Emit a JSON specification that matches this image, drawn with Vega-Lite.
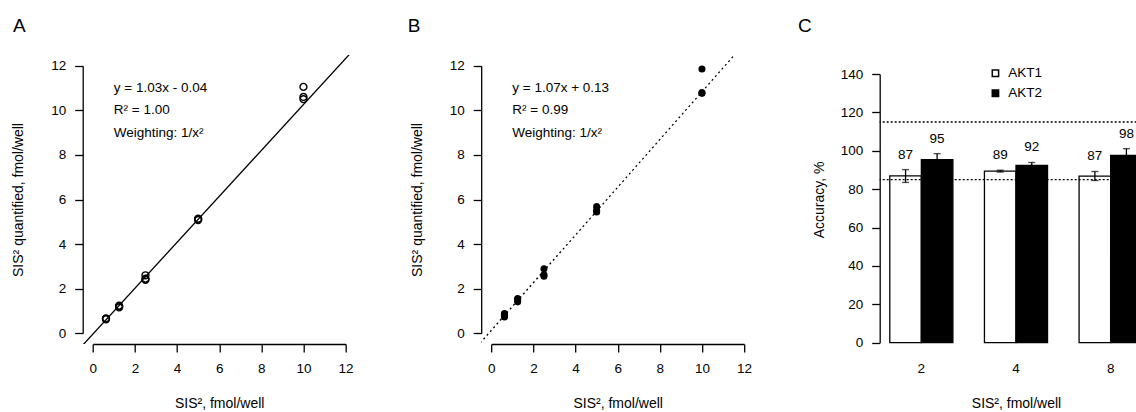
{
  "$schema": "https://vega.github.io/schema/vega-lite/v6.json",
  "background": "white",
  "padding": {"left": 10.7, "top": 17, "right": 0, "bottom": 0},
  "spacing": 125.5,
  "bounds": "flush",
  "resolve": {"legend": {"fill": "independent"}, "scale": {"fill": "independent"}},
  "config": {
    "font": "Liberation Sans",
    "view": {"stroke": null},
    "axis": {
      "labelFont": "Liberation Sans", "labelFontSize": 13.5, "labelColor": "black",
      "titleFont": "Liberation Sans", "titleFontSize": 14, "titleFontWeight": "normal", "titleColor": "black",
      "tickColor": "black", "domainColor": "black", "tickWidth": 1.3, "domainWidth": 1.3,
      "grid": false, "labelFlush": false, "labelOverlap": false, "labelBound": false
    },
    "title": {"font": "Liberation Sans", "fontSize": 19, "fontWeight": "normal", "color": "black", "anchor": "start", "frame": "group", "baseline": "alphabetic", "offset": 19},
    "text": {"font": "Liberation Sans", "fontSize": 13.5, "color": "black"}
  },
  "hconcat": [
    {
      "width": 273, "height": 289,
      "title": {"text": "A", "dx": -69.6},
      "encoding": {
        "x": {"field": "x", "type": "quantitative",
          "scale": {"domain": [-0.48, 12.48], "nice": false, "zero": false},
          "axis": {"values": [0, 2, 4, 6, 8, 10, 12], "title": "SIS², fmol/well", "domainDash": [252.8, 1000], "domainDashOffset": -10.11, "tickSize": 8, "labelPadding": 10, "titlePadding": 21}},
        "y": {"field": "y", "type": "quantitative",
          "scale": {"domain": [-0.48, 12.48], "nice": false, "zero": false},
          "axis": {"values": [0, 2, 4, 6, 8, 10, 12], "title": "SIS² quantified, fmol/well", "domainDash": [267.6, 1000], "domainDashOffset": -10.7, "tickSize": 8, "labelPadding": 9, "titlePadding": 25}}
      },
      "layer": [
        {
          "data": {"values": [
            {"x": 0.625, "y": 0.63}, {"x": 0.625, "y": 0.65}, {"x": 0.625, "y": 0.67},
            {"x": 1.25, "y": 1.16}, {"x": 1.25, "y": 1.2}, {"x": 1.25, "y": 1.24},
            {"x": 2.5, "y": 2.4}, {"x": 2.5, "y": 2.45}, {"x": 2.5, "y": 2.6},
            {"x": 5, "y": 5.08}, {"x": 5, "y": 5.12}, {"x": 5, "y": 5.14},
            {"x": 10, "y": 10.5}, {"x": 10, "y": 10.6}, {"x": 10, "y": 11.05}
          ]},
          "mark": {"type": "point", "shape": "circle", "filled": false, "size": 48, "strokeWidth": 1.4, "color": "black", "opacity": 1}
        },
        {
          "data": {"values": [{"x": -1, "y": -1.07}, {"x": 13, "y": 13.35}]},
          "mark": {"type": "line", "clip": true, "color": "black", "strokeWidth": 1.3}
        },
        {
          "data": {"values": [
            {"x": 1, "y": 11, "label": "y = 1.03x - 0.04"},
            {"x": 1, "y": 10, "label": "R² = 1.00"},
            {"x": 1, "y": 9, "label": "Weighting: 1/x²"}
          ]},
          "mark": {"type": "text", "align": "left", "baseline": "middle", "fontSize": 13.5},
          "encoding": {"text": {"field": "label"}}
        }
      ]
    },
    {
      "width": 273, "height": 289,
      "title": {"text": "B", "dx": -73.4},
      "encoding": {
        "x": {"field": "x", "type": "quantitative",
          "scale": {"domain": [-0.48, 12.48], "nice": false, "zero": false},
          "axis": {"values": [0, 2, 4, 6, 8, 10, 12], "title": "SIS², fmol/well", "domainDash": [252.8, 1000], "domainDashOffset": -10.11, "tickSize": 8, "labelPadding": 10, "titlePadding": 21}},
        "y": {"field": "y", "type": "quantitative",
          "scale": {"domain": [-0.48, 12.48], "nice": false, "zero": false},
          "axis": {"values": [0, 2, 4, 6, 8, 10, 12], "title": "SIS² quantified, fmol/well", "domainDash": [267.6, 1000], "domainDashOffset": -10.7, "tickSize": 8, "labelPadding": 9, "titlePadding": 25}}
      },
      "layer": [
        {
          "data": {"values": [
            {"x": 0.625, "y": 0.73}, {"x": 0.625, "y": 0.8}, {"x": 0.625, "y": 0.89},
            {"x": 1.25, "y": 1.41}, {"x": 1.25, "y": 1.5}, {"x": 1.25, "y": 1.56},
            {"x": 2.5, "y": 2.56}, {"x": 2.5, "y": 2.62}, {"x": 2.5, "y": 2.89},
            {"x": 5, "y": 5.44}, {"x": 5, "y": 5.5}, {"x": 5, "y": 5.68},
            {"x": 10, "y": 10.76}, {"x": 10, "y": 10.8}, {"x": 10, "y": 11.85}
          ]},
          "mark": {"type": "circle", "size": 50, "color": "black", "opacity": 1}
        },
        {
          "data": {"values": [{"x": -1, "y": -0.94}, {"x": 13, "y": 14.04}]},
          "mark": {"type": "line", "clip": true, "color": "black", "strokeWidth": 1.3, "strokeDash": [2, 3]}
        },
        {
          "data": {"values": [
            {"x": 1, "y": 11, "label": "y = 1.07x + 0.13"},
            {"x": 1, "y": 10, "label": "R² = 0.99"},
            {"x": 1, "y": 9, "label": "Weighting: 1/x²"}
          ]},
          "mark": {"type": "text", "align": "left", "baseline": "middle", "fontSize": 13.5},
          "encoding": {"text": {"field": "label"}}
        }
      ]
    },
    {
      "width": 257, "height": 289,
      "title": {"text": "C", "dx": -81.6},
      "data": {"values": [
        {"dose": "2", "protein": "AKT1", "acc": 86.9, "lo": 83.5, "hi": 90.2},
        {"dose": "2", "protein": "AKT2", "acc": 95.4, "lo": 92.4, "hi": 98.5},
        {"dose": "4", "protein": "AKT1", "acc": 89.4, "lo": 88.9, "hi": 89.9},
        {"dose": "4", "protein": "AKT2", "acc": 92.4, "lo": 90.9, "hi": 93.9},
        {"dose": "8", "protein": "AKT1", "acc": 86.8, "lo": 84.5, "hi": 89.2},
        {"dose": "8", "protein": "AKT2", "acc": 97.6, "lo": 94.1, "hi": 101.1}
      ]},
      "layer": [
        {
          "mark": {"type": "bar", "clip": true, "stroke": "black", "strokeWidth": 1.3},
          "encoding": {
            "x": {"field": "dose", "type": "nominal", "sort": ["2", "4", "8"],
              "scale": {"range": [0, 272.6], "paddingInner": 0.3333, "paddingOuter": 0.1067},
              "axis": {"labelAngle": 0, "domain": false, "ticks": false, "tickSize": 0, "labelPadding": 18, "titlePadding": 21, "title": "SIS², fmol/well"}},
            "xOffset": {"field": "protein", "type": "nominal", "sort": ["AKT1", "AKT2"], "scale": {"paddingInner": 0, "paddingOuter": 0}},
            "y": {"field": "acc", "type": "quantitative",
              "scale": {"domain": [-0.68, 149.9], "nice": false, "zero": false},
              "axis": {"values": [0, 20, 40, 60, 80, 100, 120, 140], "title": "Accuracy, %", "domainDash": [268.7, 1000], "domainDashOffset": -1.3, "tickSize": 8, "labelPadding": 9, "titlePadding": 13.6}},
            "y2": {"datum": 0},
            "fill": {"field": "protein", "type": "nominal",
              "scale": {"domain": ["AKT1", "AKT2"], "range": ["white", "black"]},
              "legend": {"title": null, "orient": "none", "legendX": 109, "legendY": 11.5, "padding": 0,
                "symbolType": "square", "symbolSize": 40, "labelFontSize": 13.5, "labelColor": "black", "labelFont": "Liberation Sans",
                "labelOffset": 6, "rowPadding": 5,
                "encode": {"symbols": {"update": {"stroke": {"value": "black"}, "strokeWidth": {"value": 1}}}}}}
          }
        },
        {
          "mark": {"type": "rule", "color": "black", "strokeWidth": 1.3},
          "encoding": {
            "x": {"field": "dose", "type": "nominal", "sort": ["2", "4", "8"]},
            "xOffset": {"field": "protein", "type": "nominal", "sort": ["AKT1", "AKT2"]},
            "y": {"field": "lo", "type": "quantitative"},
            "y2": {"field": "hi"}
          }
        },
        {
          "mark": {"type": "tick", "color": "black", "size": 7, "thickness": 1.3, "orient": "horizontal"},
          "encoding": {
            "x": {"field": "dose", "type": "nominal", "sort": ["2", "4", "8"]},
            "xOffset": {"field": "protein", "type": "nominal", "sort": ["AKT1", "AKT2"]},
            "y": {"field": "lo", "type": "quantitative"}
          }
        },
        {
          "mark": {"type": "tick", "color": "black", "size": 7, "thickness": 1.3, "orient": "horizontal"},
          "encoding": {
            "x": {"field": "dose", "type": "nominal", "sort": ["2", "4", "8"]},
            "xOffset": {"field": "protein", "type": "nominal", "sort": ["AKT1", "AKT2"]},
            "y": {"field": "hi", "type": "quantitative"}
          }
        },
        {
          "mark": {"type": "text", "baseline": "middle", "align": "center", "dy": -15, "fontSize": 13.5},
          "encoding": {
            "x": {"field": "dose", "type": "nominal", "sort": ["2", "4", "8"]},
            "xOffset": {"field": "protein", "type": "nominal", "sort": ["AKT1", "AKT2"]},
            "y": {"field": "hi", "type": "quantitative"},
            "text": {"field": "acc", "type": "quantitative", "format": ".0f"}
          }
        },
        {
          "data": {"values": [{"ref": 85}, {"ref": 115}]},
          "mark": {"type": "rule", "color": "black", "strokeWidth": 1.3, "strokeDash": [2, 2]},
          "encoding": {"y": {"field": "ref", "type": "quantitative"}}
        }
      ]
    }
  ]
}
